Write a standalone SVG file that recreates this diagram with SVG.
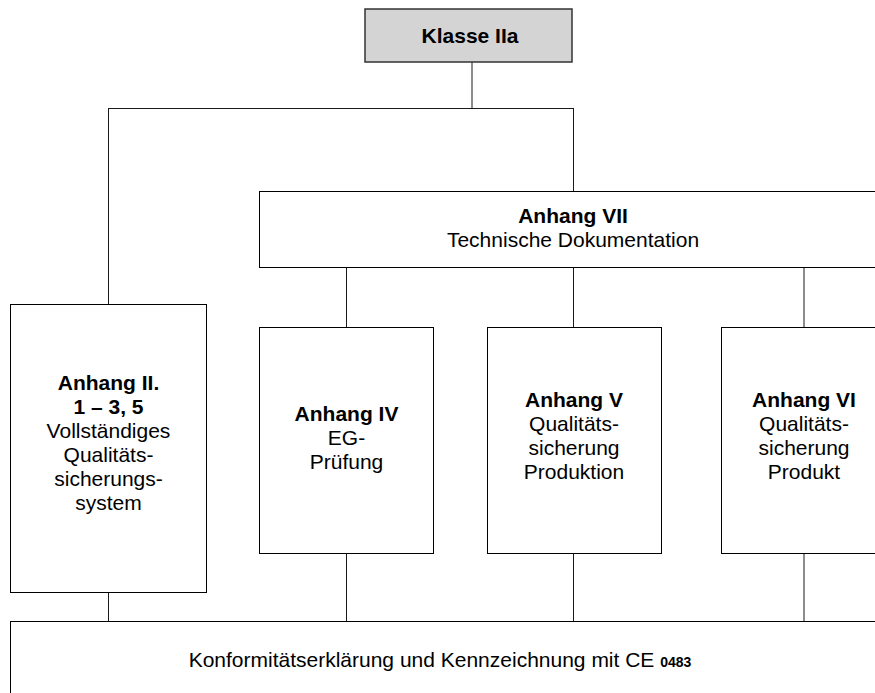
<svg xmlns="http://www.w3.org/2000/svg" width="875" height="693" viewBox="0 0 875 693">
<style>
.box{fill:#ffffff;stroke:#000000;stroke-width:1}
.gray{fill:#d4d4d4;stroke:#333333;stroke-width:1.5}
.t{font-family:"Liberation Sans",Arial,sans-serif;font-size:21px;fill:#000000;text-anchor:middle}
.b{font-weight:bold}
.c{fill:none;stroke:#1a1a1a;stroke-width:1}
</style>
<rect width="875" height="693" fill="#ffffff"/>
<g id="connectors">
<path class="c" d="M472,62 V108 M108.5,108.5 H573.5 M108.5,108 V304 M573.5,108 V191"/>
<path class="c" d="M346.5,267 V327 M573.5,267 V327 M804,267 V327"/>
<path class="c" d="M108.5,592 V621 M346.5,553 V621 M573.5,553 V621 M804,553 V621"/>
</g>
<g id="klasse">
<rect class="gray" x="365" y="9" width="207" height="53"/>
<text class="t b" x="470" y="43">Klasse IIa</text>
</g>
<g id="anhang7">
<rect class="box" x="259.5" y="191.5" width="628" height="76"/>
<text class="t" x="573" y="223"><tspan class="b">Anhang VII</tspan><tspan x="573" dy="24">Technische Dokumentation</tspan></text>
</g>
<g id="anhang2">
<rect class="box" x="10.5" y="304.5" width="196" height="288"/>
<text class="t" x="108.5" y="390"><tspan class="b">Anhang II.</tspan><tspan class="b" x="108.5" dy="24">1 – 3, 5</tspan><tspan x="108.5" dy="24">Vollständiges</tspan><tspan x="108.5" dy="24">Qualitäts-</tspan><tspan x="108.5" dy="24">sicherungs-</tspan><tspan x="108.5" dy="24">system</tspan></text>
</g>
<g id="anhang4">
<rect class="box" x="259.5" y="327.5" width="174" height="226"/>
<text class="t" x="346.5" y="421"><tspan class="b">Anhang IV</tspan><tspan x="346.5" dy="24">EG-</tspan><tspan x="346.5" dy="24">Prüfung</tspan></text>
</g>
<g id="anhang5">
<rect class="box" x="487.5" y="327.5" width="174" height="226"/>
<text class="t" x="574" y="407"><tspan class="b">Anhang V</tspan><tspan x="574" dy="24">Qualitäts-</tspan><tspan x="574" dy="24">sicherung</tspan><tspan x="574" dy="24">Produktion</tspan></text>
</g>
<g id="anhang6">
<rect class="box" x="721.5" y="327.5" width="166" height="226"/>
<text class="t" x="804" y="407"><tspan class="b">Anhang VI</tspan><tspan x="804" dy="24">Qualitäts-</tspan><tspan x="804" dy="24">sicherung</tspan><tspan x="804" dy="24">Produkt</tspan></text>
</g>
<g id="konformitaet">
<rect class="box" x="10.5" y="621.5" width="880" height="100"/>
<text class="t" x="440" y="667">Konformitätserklärung und Kennzeichnung mit CE <tspan class="b" font-size="14">0483</tspan></text>
</g>
</svg>
